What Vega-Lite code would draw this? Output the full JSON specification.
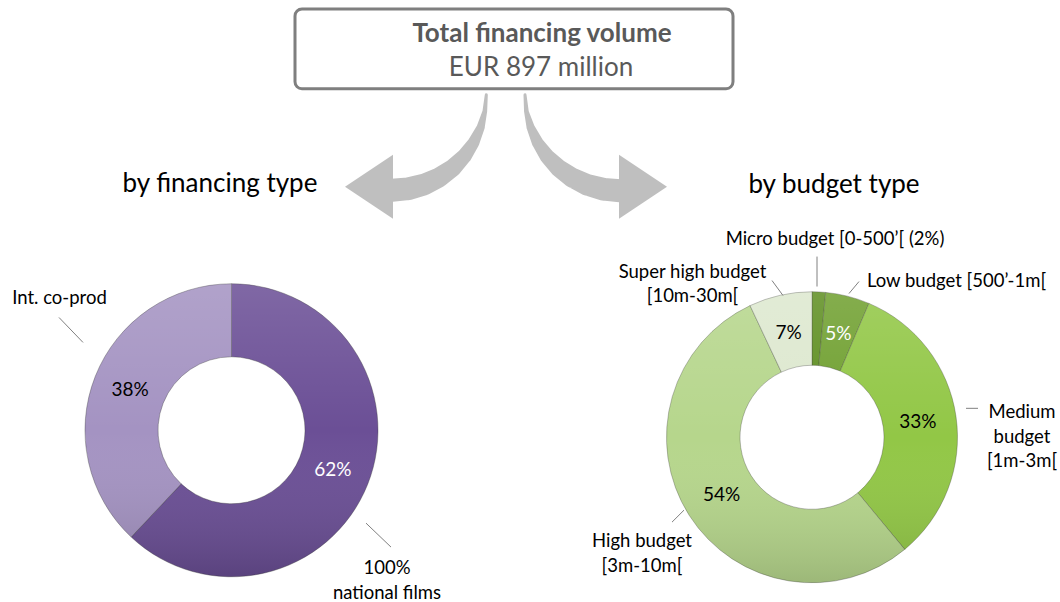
{
  "$schema": "https://vega.github.io/schema/vega-lite/v6.json",
  "width": 1060,
  "height": 602,
  "autosize": {"type": "fit", "contains": "padding"},
  "padding": 0,
  "background": "white",
  "config": {"view": {"stroke": null}, "font": "Lato"},
  "datasets": {
    "box": [{"x": 295, "x2": 733, "y": 9, "y2": 89}],
    "fin": [
      {"category": "100% national films", "k": 1, "share": 62, "pct": "62%"},
      {"category": "Int. co-prod", "k": 2, "share": 38, "pct": "38%"}
    ],
    "bud": [
      {"category": "Micro budget", "k": 1, "share": 1.5, "pct": ""},
      {"category": "Low budget", "k": 2, "share": 4.9, "pct": "5%"},
      {"category": "Medium budget", "k": 3, "share": 32.6, "pct": "33%"},
      {"category": "High budget", "k": 4, "share": 54.0, "pct": "54%"},
      {"category": "Super high budget", "k": 5, "share": 7.0, "pct": "7%"}
    ],
    "shaft": [
      {"arrow": "L", "i": 0, "x": 486.3, "y": 95, "w": 3},
      {"arrow": "L", "i": 1, "x": 484.8, "y": 111.6, "w": 4.7},
      {"arrow": "L", "i": 2, "x": 480.6, "y": 127.7, "w": 8.2},
      {"arrow": "L", "i": 3, "x": 473.6, "y": 142.8, "w": 11.7},
      {"arrow": "L", "i": 4, "x": 464.2, "y": 156.4, "w": 14.9},
      {"arrow": "L", "i": 5, "x": 452.6, "y": 168.2, "w": 17.7},
      {"arrow": "L", "i": 6, "x": 439.1, "y": 177.7, "w": 19.9},
      {"arrow": "L", "i": 7, "x": 424.2, "y": 184.8, "w": 21.6},
      {"arrow": "L", "i": 8, "x": 408.4, "y": 189.1, "w": 22.7},
      {"arrow": "L", "i": 9, "x": 392, "y": 190.5, "w": 23},
      {"arrow": "R", "i": 0, "x": 525, "y": 95, "w": 3},
      {"arrow": "R", "i": 1, "x": 526.4, "y": 111.7, "w": 4.7},
      {"arrow": "R", "i": 2, "x": 530.7, "y": 127.8, "w": 8.2},
      {"arrow": "R", "i": 3, "x": 537.7, "y": 143, "w": 11.7},
      {"arrow": "R", "i": 4, "x": 547.2, "y": 156.7, "w": 14.9},
      {"arrow": "R", "i": 5, "x": 558.9, "y": 168.5, "w": 17.7},
      {"arrow": "R", "i": 6, "x": 572.5, "y": 178.1, "w": 19.9},
      {"arrow": "R", "i": 7, "x": 587.5, "y": 185.2, "w": 21.6},
      {"arrow": "R", "i": 8, "x": 603.5, "y": 189.6, "w": 22.7},
      {"arrow": "R", "i": 9, "x": 620, "y": 191, "w": 23}
    ],
    "heads": [
      {"dir": "left", "x": 369, "y": 187},
      {"dir": "right", "x": 643, "y": 187}
    ],
    "subtitles": [
      {"text": "by financing type", "x": 220, "y": 192},
      {"text": "by budget type", "x": 834, "y": 193}
    ],
    "labels": [
      {"text": "Int. co-prod", "x": 59.5, "y": 305},
      {"text": "100%\nnational films", "x": 387, "y": 575},
      {"text": "Micro budget [0-500’[ (2%)", "x": 835, "y": 245},
      {"text": "Low budget [500’-1m[", "x": 956.5, "y": 287},
      {"text": "Super high budget\n[10m-30m[", "x": 692.5, "y": 278},
      {"text": "Medium\nbudget\n[1m-3m[", "x": 1022, "y": 419},
      {"text": "High budget\n[3m-10m[", "x": 642, "y": 548}
    ],
    "leaders": [
      {"x": 59, "y": 318, "x2": 83, "y2": 343},
      {"x": 366, "y": 524, "x2": 391, "y2": 548},
      {"x": 817, "y": 257, "x2": 817, "y2": 287},
      {"x": 859, "y": 282, "x2": 849, "y2": 294},
      {"x": 772, "y": 281, "x2": 783, "y2": 296},
      {"x": 966, "y": 409, "x2": 978, "y2": 409},
      {"x": 672, "y": 523, "x2": 684, "y2": 511}
    ]
  },
  "layer": [
    {
      "data": {"name": "box"},
      "mark": {"type": "rect", "fill": "white", "stroke": "#7f7f7f", "strokeWidth": 3, "cornerRadius": 7},
      "encoding": {
        "x": {"field": "x", "type": "quantitative", "scale": {"domain": [0, 1060], "nice": false, "zero": false}, "axis": null},
        "x2": {"field": "x2"},
        "y": {"field": "y", "type": "quantitative", "scale": {"domain": [0, 602], "nice": false, "zero": false, "reverse": true}, "axis": null},
        "y2": {"field": "y2"}
      }
    },
    {
      "data": {"values": [{"text": "Total financing volume", "x": 542, "y": 42}]},
      "mark": {"type": "text", "font": "Lato", "fontSize": 26, "fontWeight": "bold", "fill": "#595959", "align": "center", "baseline": "alphabetic"},
      "encoding": {
        "x": {"field": "x", "type": "quantitative"},
        "y": {"field": "y", "type": "quantitative"},
        "text": {"field": "text"}
      }
    },
    {
      "data": {"values": [{"text": "EUR 897 million", "x": 541, "y": 76}]},
      "mark": {"type": "text", "font": "Lato", "fontSize": 26, "fill": "#595959", "align": "center", "baseline": "alphabetic"},
      "encoding": {
        "x": {"field": "x", "type": "quantitative"},
        "y": {"field": "y", "type": "quantitative"},
        "text": {"field": "text"}
      }
    },
    {
      "data": {"name": "shaft"},
      "mark": {"type": "trail", "color": "#bfbfbf", "opacity": 1},
      "encoding": {
        "x": {"field": "x", "type": "quantitative"},
        "y": {"field": "y", "type": "quantitative"},
        "detail": {"field": "arrow"},
        "order": {"field": "i"},
        "size": {"field": "w", "type": "quantitative", "scale": null}
      }
    },
    {
      "data": {"name": "heads"},
      "mark": {"type": "point", "filled": true, "color": "#bfbfbf", "opacity": 1, "size": 4096, "strokeWidth": 0},
      "encoding": {
        "x": {"field": "x", "type": "quantitative"},
        "y": {"field": "y", "type": "quantitative"},
        "shape": {"field": "dir", "type": "nominal", "legend": null,
          "scale": {"domain": ["left", "right"], "range": ["M -0.75 0 L 0.75 -1 L 0.75 1 Z", "M 0.75 0 L -0.75 -1 L -0.75 1 Z"]}}
      }
    },
    {
      "data": {"name": "subtitles"},
      "mark": {"type": "text", "font": "Lato", "fontSize": 26, "fill": "#000000", "align": "center", "baseline": "alphabetic"},
      "encoding": {
        "x": {"field": "x", "type": "quantitative"},
        "y": {"field": "y", "type": "quantitative"},
        "text": {"field": "text"}
      }
    },
    {
      "data": {"name": "fin"},
      "mark": {"type": "arc", "outerRadius": 146.5, "innerRadius": 73.5, "stroke": "#303030", "strokeOpacity": 0.35, "strokeWidth": 1},
      "encoding": {
        "x": {"datum": 231.5, "type": "quantitative"},
        "y": {"datum": 431, "type": "quantitative"},
        "theta": {"field": "share", "type": "quantitative", "stack": true},
        "order": {"field": "k"},
        "color": {"field": "category", "type": "nominal", "legend": null,
          "scale": {"domain": ["100% national films", "Int. co-prod", "Micro budget", "Low budget", "Medium budget", "High budget", "Super high budget"],
                    "range": ["#6b4f96", "#a493c2", "#5f8f22", "#70a030", "#92c746", "#b6d68c", "#dde8cf"]}}
      }
    },
    {
      "data": {"name": "fin"},
      "transform": [{"aggregate": [{"op": "sum", "field": "share", "as": "total"}]}],
      "mark": {"type": "arc", "outerRadius": 146.5, "innerRadius": 73.5,
        "fill": {"gradient": "linear", "x1": 0, "y1": 0, "x2": 0, "y2": 1,
          "stops": [{"offset": 0, "color": "rgba(255,255,255,0.14)"}, {"offset": 0.5, "color": "rgba(255,255,255,0)"}, {"offset": 1, "color": "rgba(0,0,0,0.16)"}]}},
      "encoding": {
        "x": {"datum": 231.5, "type": "quantitative"},
        "y": {"datum": 431, "type": "quantitative"},
        "theta": {"field": "total", "type": "quantitative", "stack": true}
      }
    },
    {
      "data": {"name": "fin"},
      "mark": {"type": "text", "radius": 109, "font": "Lato", "fontSize": 19, "align": "center", "baseline": "middle"},
      "encoding": {
        "x": {"datum": 231.5, "type": "quantitative"},
        "y": {"datum": 431, "type": "quantitative"},
        "theta": {"field": "share", "type": "quantitative", "stack": true},
        "order": {"field": "k"},
        "detail": {"field": "category"},
        "text": {"field": "pct"},
        "color": {"condition": {"test": "datum.category === '100% national films'", "value": "#ffffff"}, "value": "#000000"}
      }
    },
    {
      "data": {"name": "bud"},
      "mark": {"type": "arc", "outerRadius": 145.5, "innerRadius": 72, "stroke": "#303030", "strokeOpacity": 0.3, "strokeWidth": 1},
      "encoding": {
        "x": {"datum": 812, "type": "quantitative"},
        "y": {"datum": 438, "type": "quantitative"},
        "theta": {"field": "share", "type": "quantitative", "stack": true},
        "order": {"field": "k"},
        "color": {"field": "category", "type": "nominal", "legend": null}
      }
    },
    {
      "data": {"name": "bud"},
      "transform": [{"aggregate": [{"op": "sum", "field": "share", "as": "total"}]}],
      "mark": {"type": "arc", "outerRadius": 145.5, "innerRadius": 72,
        "fill": {"gradient": "linear", "x1": 0, "y1": 0, "x2": 0, "y2": 1,
          "stops": [{"offset": 0, "color": "rgba(255,255,255,0.14)"}, {"offset": 0.5, "color": "rgba(255,255,255,0)"}, {"offset": 1, "color": "rgba(0,0,0,0.14)"}]}},
      "encoding": {
        "x": {"datum": 812, "type": "quantitative"},
        "y": {"datum": 438, "type": "quantitative"},
        "theta": {"field": "total", "type": "quantitative", "stack": true}
      }
    },
    {
      "data": {"name": "bud"},
      "mark": {"type": "text", "radius": 107, "font": "Lato", "fontSize": 19, "align": "center", "baseline": "middle"},
      "encoding": {
        "x": {"datum": 812, "type": "quantitative"},
        "y": {"datum": 438, "type": "quantitative"},
        "theta": {"field": "share", "type": "quantitative", "stack": true},
        "order": {"field": "k"},
        "detail": {"field": "category"},
        "text": {"field": "pct"},
        "color": {"condition": {"test": "datum.category === 'Low budget'", "value": "#ffffff"}, "value": "#000000"}
      }
    },
    {
      "data": {"name": "leaders"},
      "mark": {"type": "rule", "color": "#808080", "strokeWidth": 1},
      "encoding": {
        "x": {"field": "x", "type": "quantitative"},
        "y": {"field": "y", "type": "quantitative"},
        "x2": {"field": "x2"},
        "y2": {"field": "y2"}
      }
    },
    {
      "data": {"name": "labels"},
      "mark": {"type": "text", "font": "Lato", "fontSize": 18.5, "fill": "#000000", "align": "center", "baseline": "alphabetic", "lineBreak": "\n", "lineHeight": 24.5},
      "encoding": {
        "x": {"field": "x", "type": "quantitative"},
        "y": {"field": "y", "type": "quantitative"},
        "text": {"field": "text"}
      }
    }
  ]
}
